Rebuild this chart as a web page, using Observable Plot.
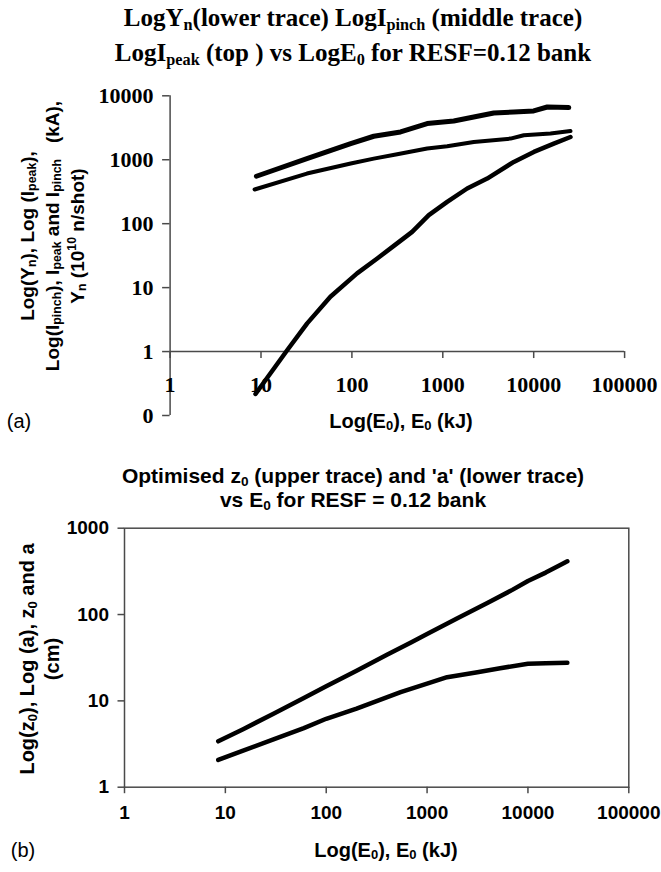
<!DOCTYPE html>
<html><head><meta charset="utf-8">
<script src="https://cdn.jsdelivr.net/npm/d3@7"></script>
<script src="https://cdn.jsdelivr.net/npm/@observablehq/plot@0.6"></script>
<style>
body{margin:0;background:#fff;}
#wrap{position:relative;width:661px;height:872px;overflow:hidden;background:#fff;}
.abs{position:absolute;white-space:nowrap;color:#000;}
.serif{font-family:"Liberation Serif","Times New Roman",serif;font-weight:bold;}
.sans{font-family:"Liberation Sans",Arial,sans-serif;font-weight:bold;}
.reg{font-family:"Liberation Sans",Arial,sans-serif;font-weight:normal;}
sub,sup{font-size:65%;line-height:0;}
sub{vertical-align:-0.22em;}
.rot{transform:translate(-50%,-50%) rotate(-90deg);text-align:center;}
.ctr{transform:translate(-50%,-50%);text-align:center;}
.plot{position:absolute;left:0;}
</style></head><body><div id="wrap"></div>
<script>
// ---------- data: panel (a) ----------
const xTicks = [1, 10, 100, 1000, 10000, 100000];
const aYTicks = [0.1, 1, 10, 100, 1000, 10000];
const aYTickLabels = ["0", "1", "10", "100", "1000", "10000"];
const bYTicks = [1, 10, 100, 1000];

// I_peak (top trace), kA
const peakE = [8.9, 32, 97, 174, 343, 673, 1320, 2190, 3640, 6040, 10000, 14100, 24300];
const peakI = [552, 1040, 1790, 2330, 2720, 3680, 4040, 4670, 5390, 5590, 5790, 6680, 6540];
// I_pinch (middle trace), kA
const pinchE = [8.5, 32, 97, 174, 315, 673, 1117, 2190, 5560, 7780, 15300, 25400];
const pinchI = [342, 608, 872, 1040, 1220, 1500, 1625, 1900, 2140, 2420, 2570, 2820];
// Y_n (lower trace), 10^10 n/shot
const ynE = [8.7, 19.4, 32.2, 58, 114, 190, 289, 460, 701, 1117, 1854, 3077, 6040, 10030, 16640, 25400];
const ynV = [0.217, 1.05, 2.76, 7.2, 16.7, 28.5, 45, 74.5, 136, 219, 355, 508, 925, 1325, 1790, 2270];

// ---------- data: panel (b) ----------
// z0 (upper trace), cm
const z0E = [8.5, 15, 30, 60, 100, 200, 400, 700, 1000, 2000, 4000, 7000, 10000, 15000, 20000, 24600];
const z0V = [3.4, 4.7, 7.1, 10.8, 14.8, 22.4, 34.1, 47.9, 59.4, 90.4, 137, 193, 245, 306, 364, 413];
// a (lower trace), cm
const aE = [8.5, 15, 30, 60, 100, 200, 316, 547, 1000, 1580, 3155, 5300, 10000, 15000, 24600];
const aV = [2.07, 2.65, 3.58, 4.84, 6.2, 8.15, 9.95, 12.6, 15.8, 18.8, 21.5, 23.9, 26.9, 27.3, 27.6];

const rows = (E, V) => E.map((e, i) => ({e, v: V[i]}));

const serif = '"Liberation Serif", "Times New Roman", serif';
const sans = '"Liberation Sans", Arial, sans-serif';
const axisGray = "#4a4a4a";

const plotA = Plot.plot({
  width: 661, height: 440,
  marginLeft: 169.6, marginRight: 36.9, marginTop: 95.3, marginBottom: 25,
  x: {type: "log", domain: [1, 100000], axis: null},
  y: {type: "log", domain: [0.1, 10000], axis: null},
  style: {background: "transparent", color: "#000", fontFamily: serif, fontWeight: "bold", fontSize: "21px"},
  marks: [
    Plot.ruleX([1], {y1: 0.1, y2: 10000, stroke: axisGray, strokeWidth: 1.5}),
    Plot.axisY(aYTicks, {
      tickSize: 7.5, tickPadding: 9, stroke: axisGray, strokeWidth: 1.5, label: null,
      tickFormat: d => aYTickLabels[aYTicks.indexOf(d)],
      fontFamily: serif, fontSize: 22, fontWeight: "bold"
    }),
    Plot.ruleY([1], {x1: 1, x2: 100000, stroke: axisGray, strokeWidth: 1.5}),
    Plot.ruleX(xTicks, {x: d => d, y1: 1, y2: 1, insetBottom: -7, stroke: axisGray, strokeWidth: 1.5}),
    Plot.text(xTicks, {x: d => d, y: 1, dy: 33, text: d => String(d),
      fontFamily: serif, fontSize: 22, fontWeight: "bold", fill: "#000"}),
    Plot.line(rows(peakE, peakI), {x: "e", y: "v", stroke: "#000", strokeWidth: 5, strokeLinecap: "round", strokeLinejoin: "round"}),
    Plot.line(rows(pinchE, pinchI), {x: "e", y: "v", stroke: "#000", strokeWidth: 4, strokeLinecap: "round", strokeLinejoin: "round"}),
    Plot.line(rows(ynE, ynV), {x: "e", y: "v", stroke: "#000", strokeWidth: 4.5, strokeLinecap: "round", strokeLinejoin: "round"})
  ]
});

const plotB = Plot.plot({
  width: 661, height: 432,
  marginLeft: 124, marginRight: 32.7, marginTop: 87.7, marginBottom: 85.3,
  x: {type: "log", domain: [1, 100000]},
  y: {type: "log", domain: [1, 1000]},
  style: {background: "transparent", color: "#000", fontFamily: sans, fontWeight: "bold", fontSize: "19px"},
  marks: [
    Plot.frame({stroke: axisGray, strokeWidth: 1.5}),
    Plot.axisY(bYTicks, {
      tickSize: 6.5, tickPadding: 9, stroke: axisGray, strokeWidth: 1.5, label: null,
      tickFormat: d => String(d), fontFamily: sans, fontSize: 19, fontWeight: "bold"
    }),
    Plot.axisX(xTicks, {
      tickSize: 6.5, tickPadding: 12, stroke: axisGray, strokeWidth: 1.5, label: null,
      tickFormat: d => String(d), fontFamily: sans, fontSize: 19, fontWeight: "bold"
    }),
    Plot.line(rows(z0E, z0V), {x: "e", y: "v", stroke: "#000", strokeWidth: 4.5, strokeLinecap: "round", strokeLinejoin: "round"}),
    Plot.line(rows(aE, aV), {x: "e", y: "v", stroke: "#000", strokeWidth: 4.5, strokeLinecap: "round", strokeLinejoin: "round"})
  ]
});

const wrap = document.getElementById("wrap");
plotA.classList.add("plot"); plotA.style.top = "0px";
plotB.classList.add("plot"); plotB.style.top = "440px";
wrap.appendChild(plotA);
wrap.appendChild(plotB);

function label(html, cls, x, y, size, extra) {
  const d = document.createElement("div");
  d.className = "abs " + cls;
  d.style.left = x + "px";
  d.style.top = y + "px";
  d.style.fontSize = size + "px";
  if (extra) Object.assign(d.style, extra);
  d.innerHTML = html;
  wrap.appendChild(d);
}

// panel (a) texts
label("LogY<sub>n</sub>(lower trace) LogI<sub>pinch</sub> (middle trace)", "serif ctr", 353, 18, 25);
label("LogI<sub>peak</sub> (top ) vs LogE<sub>0</sub> for RESF=0.12 bank", "serif ctr", 353, 53, 25);
label("Log(Y<sub>n</sub>), Log (I<sub>peak</sub>),<br>Log(I<sub>pinch</sub>), I<sub>peak</sub> and I<sub>pinch</sub>&nbsp;&nbsp; (kA),<br>Y<sub>n</sub> (10<sup>10</sup> n/shot)",
  "sans rot", 52, 236, 19, {lineHeight: "25px"});
label("Log(E<sub>0</sub>), E<sub>0</sub> (kJ)", "sans ctr", 401, 421, 20);
label("(a)", "reg ctr", 19, 421, 20);

// panel (b) texts
label("Optimised z<sub>0</sub> (upper trace) and 'a' (lower trace)", "sans ctr", 353, 476, 21);
label("vs E<sub>0</sub> for RESF = 0.12 bank", "sans ctr", 353, 500, 21);
label("Log(z<sub>0</sub>), Log (a), z<sub>0</sub> and a<br>(cm)", "sans rot", 39.5, 659, 20, {lineHeight: "25px"});
label("Log(E<sub>0</sub>), E<sub>0</sub> (kJ)", "sans ctr", 386, 850, 20);
label("(b)", "reg ctr", 23, 850, 20);
</script></body></html>
